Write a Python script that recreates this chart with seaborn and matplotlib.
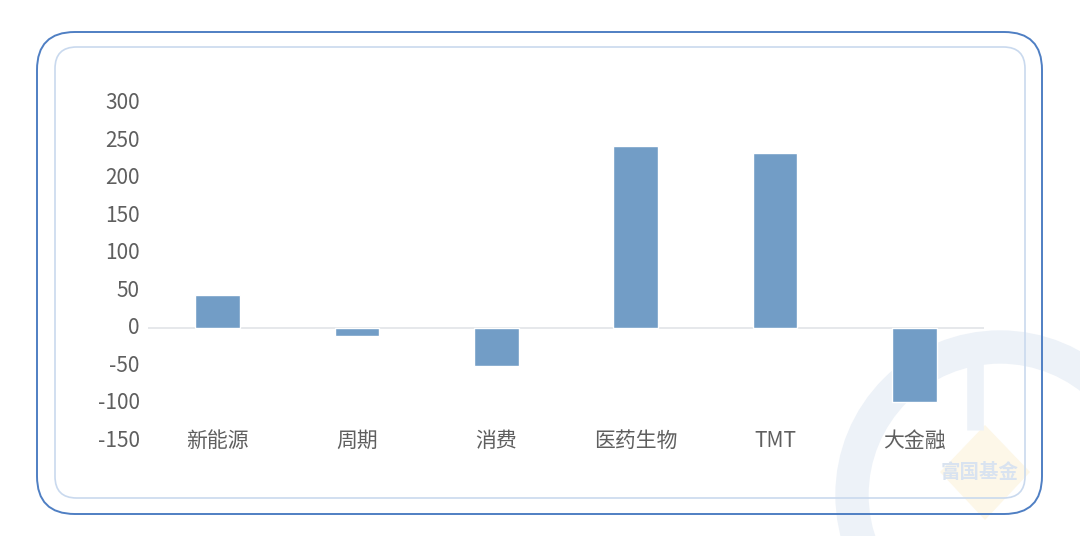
import numpy as np
import pandas as pd
import matplotlib
matplotlib.use("Agg")
import matplotlib.pyplot as plt
import seaborn as sns
from matplotlib.patches import FancyBboxPatch, Circle, Polygon

categories = ["新能源", "周期", "消费", "医药生物", "TMT", "大金融"]
values = [45, -10, -50, 243, 233, -98]
yticks = [-150, -100, -50, 0, 50, 100, 150, 200, 250, 300]

sns.set_style("white")
plt.rcParams['font.family'] = ['Noto Sans CJK SC', 'DejaVu Sans']

df = pd.DataFrame({"cat": categories, "val": values})

fig = plt.figure(figsize=(10.8, 5.36), dpi=100)
W, H = 1080, 536

def px(x, y):
    return x / W, 1 - y / H

# faint watermark logo (drawn first, behind everything)
wm = fig.add_axes([0, 0, 1, 1], zorder=0)
wm.set_xlim(0, W)
wm.set_ylim(H, 0)
wm.axis("off")
wm.add_patch(Circle((1000, 495), 148, fill=False, ec="#edf2f8", lw=24))
wm.add_patch(Polygon([(985, 425), (1030, 472), (985, 520), (940, 472)],
                     closed=True, fc="#fdf7e8", ec="none"))
wm.plot([975, 975], [335, 430], color="#edf2f8", lw=12, solid_capstyle="butt")
wm.text(980, 472, "富国基金", ha="center", va="center", fontsize=14,
        fontweight="bold", color="#d9e3f0")

# frames
x0, y0 = px(37, 514)
x1, y1 = px(1042, 32)
fig.patches.append(FancyBboxPatch((x0, y0), x1 - x0, y1 - y0,
                                  boxstyle="round,pad=0,rounding_size=0.035",
                                  transform=fig.transFigure, fill=False,
                                  ec="#4f7fc3", lw=1.4, mutation_aspect=W / H))
x0, y0 = px(55, 498)
x1, y1 = px(1025, 47)
fig.patches.append(FancyBboxPatch((x0, y0), x1 - x0, y1 - y0,
                                  boxstyle="round,pad=0,rounding_size=0.02",
                                  transform=fig.transFigure, fill=False,
                                  ec="#c9d9ee", lw=1.2, mutation_aspect=W / H))

ax = fig.add_axes([148 / W, 95 / H, 836 / W, 338 / H], zorder=1)
ax.patch.set_alpha(0)
sns.barplot(data=df, x="cat", y="val", color="#729dc6", saturation=1,
            width=0.32, ax=ax, zorder=3)
ax.axhline(0, color="#e2e4e8", lw=1.2, zorder=2)
ax.set_xlim(-0.5, 5.5)
ax.set_ylim(-150, 300)
ax.set_yticks(yticks)
ax.set_yticklabels([str(v) for v in yticks])
ax.set_xlabel("")
ax.set_ylabel("")
for s in ax.spines.values():
    s.set_visible(False)
ax.tick_params(axis="y", length=0, pad=6, labelsize=15, labelcolor="#5f5f5f")
ax.tick_params(axis="x", length=0, pad=0, labelsize=15, labelcolor="#5f5f5f")
for lab in ax.get_xticklabels() + ax.get_yticklabels():
    lab.set_va("center")
    lab.set_fontweight("light")

fig.savefig("out.png", dpi=100)
